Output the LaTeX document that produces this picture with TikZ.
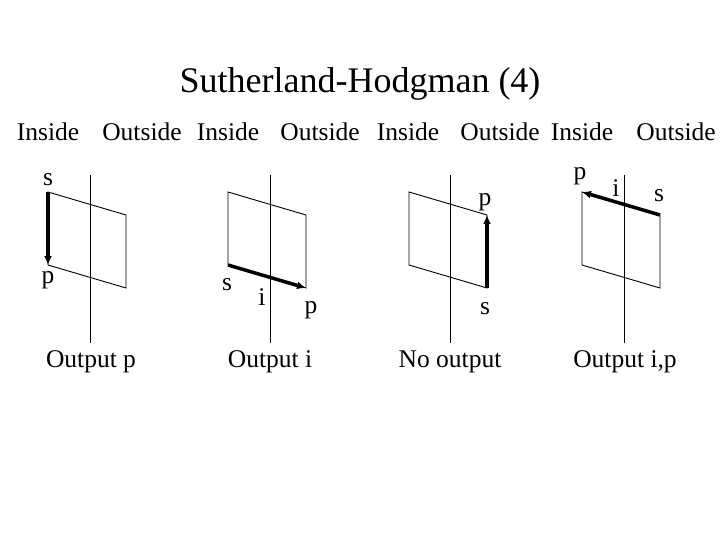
\documentclass[tikz,border=0pt]{standalone}
\usepackage{fontspec}
\setmainfont{Liberation Serif}
\usetikzlibrary{arrows.meta, calc, positioning}
\tikzset{edgearrow/.style={-{Latex[length=9pt, width=8pt]}, line width=3.5pt}}
\tikzset{lbl/.style={font=\fontsize{25.5}{30}\selectfont, inner sep=0pt}}

\begin{document}
\begin{tikzpicture}[x=1pt, y=-1pt, line width=0.9pt]
    \useasboundingbox (0,0) rectangle (720,540);
    \node[font=\fontsize{36}{40}\selectfont] (title) at (360,84) {Sutherland-Hodgman (4)};

    % four panels: clip line and polygon
    \foreach \n/\cx/\lx in {1/90/48, 2/270/228, 3/450/409, 4/624/582}{
        \draw (\cx,175) -- (\cx,343);
        \coordinate (A\n) at (\lx,192);
        \coordinate (B\n) at (\lx+78,215);
        \coordinate (C\n) at (\lx+78,288);
        \coordinate (D\n) at (\lx,265);
        \draw (A\n) -- (B\n) -- (C\n) -- (D\n) -- cycle;
    }
    \draw[edgearrow] (A1) -- (D1);
    \draw[edgearrow] (D2) -- (C2);
    \draw[edgearrow] (C3) -- (B3);
    \draw[edgearrow] (B4) -- (A4);

    \node[lbl] (in1) at (48,132) {Inside};
    \node[lbl] (out1) at (142,132) {Outside};
    \node[lbl] (in2) at (228,132) {Inside};
    \node[lbl] (out2) at (320,132) {Outside};
    \node[lbl] (in3) at (408,132) {Inside};
    \node[lbl] (out3) at (500,132) {Outside};
    \node[lbl] (in4) at (582,132) {Inside};
    \node[lbl] (out4) at (676,132) {Outside};

    \node[lbl] (s1) at (48,180) {s};
    \node[lbl] (p1) at (48,280) {p};
    \node[lbl] (s2) at (227,285) {s};
    \node[lbl] (i2) at (262,297) {i};
    \node[lbl] (p2) at (311,310) {p};
    \node[lbl] (p3) at (485,202) {p};
    \node[lbl] (s3) at (485,309) {s};
    \node[lbl] (p4) at (580,176) {p};
    \node[lbl] (i4) at (616,188) {i};
    \node[lbl] (s4) at (659,196) {s};

    \node[lbl] (o1) at (91,362) {Output p};
    \node[lbl] (o2) at (270,362) {Output i};
    \node[lbl] (o3) at (450,362) {No output};
    \node[lbl] (o4) at (625,362) {Output i,p};
\end{tikzpicture}
\end{document}
